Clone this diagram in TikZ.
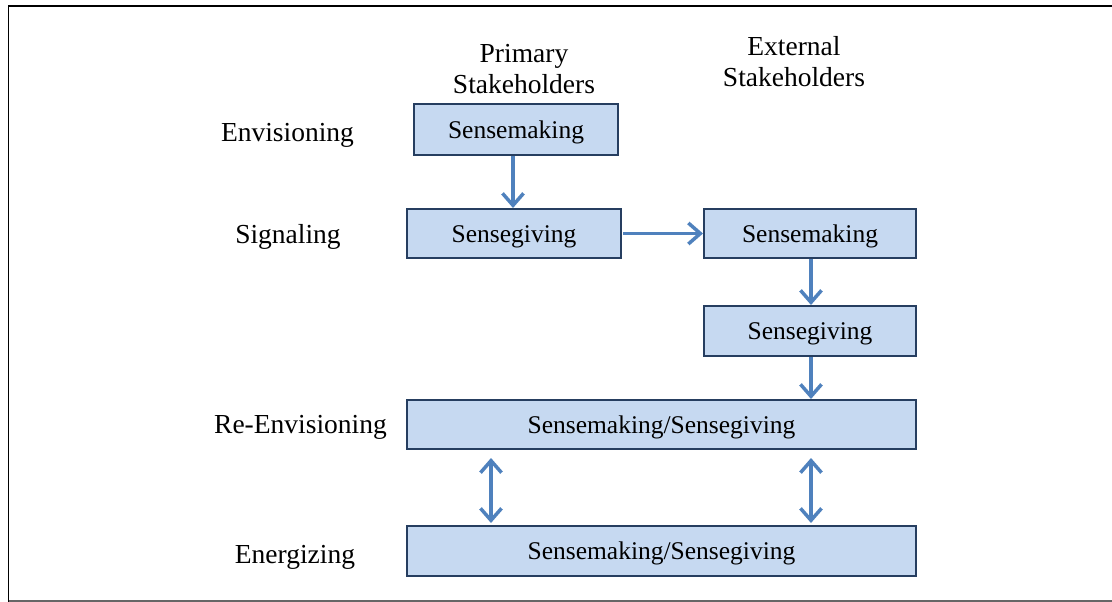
\documentclass[tikz,border=0pt]{standalone}
\usepackage{fontspec}
\setmainfont{Liberation Serif}
\usetikzlibrary{arrows.meta}
\definecolor{boxfill}{RGB}{198,217,241}
\definecolor{boxline}{RGB}{38,62,96}
\definecolor{flowblue}{RGB}{79,129,189}
\tikzset{
  box/.style={draw=boxline, fill=boxfill, line width=2pt, inner sep=0pt,
    text height=17pt, text depth=0pt, font=\fontsize{25.5}{30}\selectfont},
  tip/.tip={Straight Barb[length=12pt,width=21pt,line width=3.5pt]},
  flow/.style={draw=flowblue, line width=3.5pt, -tip},
  both/.style={flow, tip-tip},
  lbl/.style={anchor=base, font=\fontsize{27.5}{32}\selectfont},
  head/.style={align=center, anchor=base, font=\fontsize{27.5}{31}\selectfont}
}
\begin{document}
\begin{tikzpicture}[x=1pt,y=-1pt]
                        \useasboundingbox (0,0) rectangle (1112,602);
                        \draw[line width=1.5pt] (8.5,1200) -- (8.5,6) -- (1200,6);
                        \draw[line width=1.5pt, black!60] (8.5,601) -- (1200,601);

                        \node[head] (hPrim) at (524,93) {Primary\\Stakeholders};
                        \node[head] (hExt) at (794,87) {External\\Stakeholders};

                        \node[lbl] (lEnv) at (287.5,142) {Envisioning};
                        \node[lbl] (lSig) at (288,243) {Signaling};
                        \node[lbl] (lReEnv) at (300.5,433) {Re-Envisioning};
                        \node[lbl] (lEnerg) at (295,563) {Energizing};

                        \node[box, minimum width=204pt, minimum height=51pt] (smPrim) at (516,129.5) {Sensemaking};
                        \node[box, minimum width=214pt, minimum height=49pt] (sgPrim) at (514,233.5) {Sensegiving};
                        \node[box, minimum width=212pt, minimum height=49pt] (smExt) at (810,233.5) {Sensemaking};
                        \node[box, minimum width=212pt, minimum height=50pt] (sgExt) at (810,331) {Sensegiving};
                        \node[box, minimum width=509pt, minimum height=49pt] (reEnv) at (661.5,424.5) {Sensemaking/Sensegiving};
                        \node[box, minimum width=509pt, minimum height=50pt] (energ) at (661.5,551) {Sensemaking/Sensegiving};

                        \draw[flow] ([xshift=-3pt]smPrim.south) -- ([xshift=-3pt]smPrim.south |- sgPrim.north);
                        \draw[flow, shorten <=1pt] (sgPrim.east) -- (smExt.west);
                        \draw[flow] ([xshift=1pt]smExt.south) -- ([xshift=1pt]smExt.south |- sgExt.north);
                        \draw[flow] ([xshift=1pt]sgExt.south) -- ([xshift=1pt]sgExt.south |- reEnv.north);
                        \draw[both, shorten <=8pt, shorten >=2pt] ([xshift=-170.5pt]reEnv.south) -- ([xshift=-170.5pt]energ.north);
                        \draw[both, shorten <=8pt, shorten >=2pt] ([xshift=1pt]sgExt.south |- reEnv.south) -- ([xshift=1pt]sgExt.south |- energ.north);
                    \end{tikzpicture}
\end{document}
